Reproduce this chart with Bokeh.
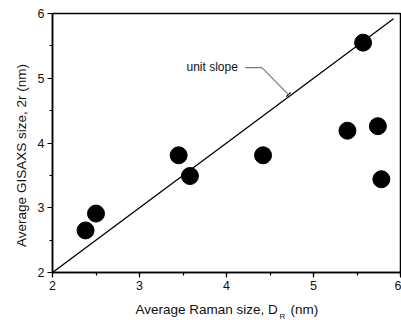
import math
from bokeh.plotting import figure
from bokeh.layouts import row, column
from bokeh.models import Label, Range1d, SingleIntervalTicker, Arrow, TeeHead
from bokeh.embed import file_html
from bokeh.resources import INLINE

# Data
raman = [2.38, 2.50, 3.45, 3.58, 4.42, 5.39, 5.57, 5.74, 5.78]
gisaxs = [2.65, 2.91, 3.81, 3.49, 3.81, 4.19, 5.55, 4.26, 3.44]
unit_x = [2.0, 5.92]
unit_y = [2.0, 5.92]
leader_x = [4.217, 4.408]
leader_y = [5.164, 5.164]
x_label_parts = ["Average Raman size, D", "R", "(nm)"]
y_label = "Average GISAXS size, 2r (nm)"

FONT = "Liberation Sans"

p = figure(width=367, height=296, output_backend="svg", toolbar_location=None,
           x_range=Range1d(2, 6), y_range=Range1d(2, 6),
           min_border_left=18, min_border_right=1, min_border_top=13, min_border_bottom=24)
p.xgrid.visible = False
p.ygrid.visible = False
p.outline_line_color = "black"
p.outline_line_width = 1.5
p.outline_line_alpha = 1.0

for ax in (p.xaxis[0], p.yaxis[0]):
    ax.ticker = SingleIntervalTicker(interval=1, num_minor_ticks=2)
    ax.axis_line_width = 1.5
    ax.axis_line_color = "black"
    ax.major_tick_in = 0
    ax.major_tick_out = 5
    ax.minor_tick_in = 0
    ax.minor_tick_out = 3
    ax.major_tick_line_width = 1.2
    ax.minor_tick_line_width = 1.2
    ax.major_tick_line_color = "black"
    ax.minor_tick_line_color = "black"
    ax.major_label_text_font = FONT
    ax.major_label_text_font_size = "12.5px"
    ax.major_label_text_color = "#111111"
    ax.axis_label = None
p.xaxis.major_label_standoff = 3
p.yaxis.major_label_standoff = 3

# unit slope line
p.line(unit_x, unit_y, line_color="black", line_width=1.3)

# points
p.scatter(raman, gisaxs, size=17, fill_color="black", line_color="black")

# annotation
p.line(leader_x, leader_y, line_color="#777777", line_width=1.2)
p.add_layout(Arrow(x_start=leader_x[1], y_start=leader_y[1], x_end=4.712, y_end=4.748,
                   line_color="#777777", line_width=1.2,
                   end=TeeHead(size=6, line_color="black", line_width=1.2)))
p.add_layout(Label(x=3.54, y=5.168, text="unit slope", text_font=FONT,
                   text_font_size="12px", text_baseline="middle", text_align="left",
                   text_color="#111111"))


def strip(w, h):
    f = figure(width=w, height=h, output_backend="svg", toolbar_location=None,
               title_location=None, x_range=Range1d(0, 1), y_range=Range1d(0, 1),
               x_axis_type=None, y_axis_type=None,
               min_border_left=0, min_border_right=0, min_border_top=0, min_border_bottom=0,
               min_border=0)
    f.xgrid.visible = False
    f.ygrid.visible = False
    f.outline_line_color = None
    return f


def add_text(f, x, y, text, size, angle=0.0, align="left"):
    f.add_layout(Label(x=x, y=y, x_units="canvas", y_units="canvas", text=text,
                       text_font=FONT, text_font_size=size, angle=angle,
                       text_align=align, text_baseline="alphabetic",
                       text_color="#111111"))


# left strip (34 px wide): y-axis title
left = strip(34, 320)
add_text(left, 21, 155, y_label, "13.5px", angle=math.pi / 2, align="center")

# bottom strip (starts at page x=34, y=296): x-axis title with subscript
bottom = strip(367, 24)
add_text(bottom, 135 - 34, 309 - 296, x_label_parts[0], "13.5px")
add_text(bottom, 279 - 34, 316 - 296, x_label_parts[1], "8px")
add_text(bottom, 290 - 34, 309 - 296, x_label_parts[2], "13.5px")

layout = row(left, column(p, bottom, spacing=0), spacing=0)
open("out.html", "w").write(file_html(layout, INLINE))
